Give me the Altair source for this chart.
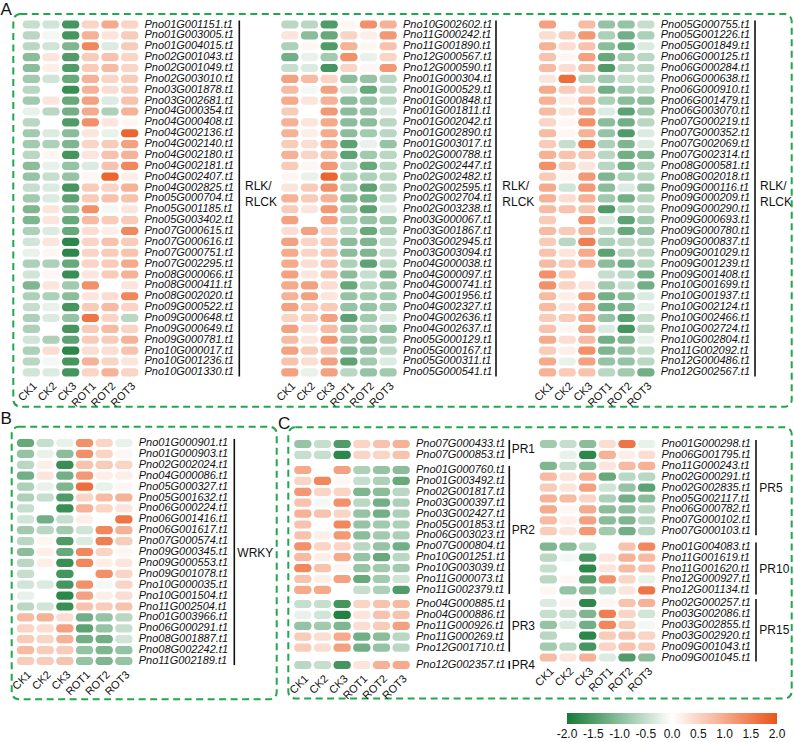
import altair as alt
import pandas as pd

COLUMNS = ["CK1", "CK2", "CK3", "ROT1", "ROT2", "ROT3"]

# ---- Panel A : RLK / RLCK genes (three blocks) ----
A1_GENES = [
    "Pno01G001151.t1", "Pno01G003005.t1", "Pno01G004015.t1", "Pno02G001043.t1",
    "Pno02G001049.t1", "Pno02G003010.t1", "Pno03G001878.t1", "Pno03G002681.t1",
    "Pno04G000354.t1", "Pno04G000408.t1", "Pno04G002136.t1", "Pno04G002140.t1",
    "Pno04G002180.t1", "Pno04G002181.t1", "Pno04G002407.t1", "Pno04G002825.t1",
    "Pno05G000704.t1", "Pno05G001185.t1", "Pno05G003402.t1", "Pno07G000615.t1",
    "Pno07G000616.t1", "Pno07G000751.t1", "Pno07G002295.t1", "Pno08G000066.t1",
    "Pno08G000411.t1", "Pno08G002020.t1", "Pno09G000522.t1", "Pno09G000648.t1",
    "Pno09G000649.t1", "Pno09G000781.t1", "Pno10G000017.t1", "Pno10G001236.t1",
    "Pno10G001330.t1",
]
A1_VALUES = [
    [-0.5, -0.4, -1.6, 0.5, 1.0, 0.5], [-0.6, -0.1, -1.6, 0.9, 0.3, 0.6],
    [-0.6, -0.4, -1.1, 1.4, -0.3, 0.6], [-1.0, 0.3, -1.5, 0.6, 0.7, 0.5],
    [-1.0, 0.2, -1.5, 0.6, 0.8, 0.5], [-0.8, -0.4, -1.3, 0.9, 0.5, 0.6],
    [-0.6, 0.0, -1.7, 0.9, 0.4, 0.6], [-0.8, 0.3, -1.3, 1.1, -0.3, 0.7],
    [-0.2, -0.6, -1.2, 1.0, -0.7, 0.9], [-0.6, 0.0, -1.5, 1.3, 0.3, 0.1],
    [-0.8, -0.3, -1.0, 0.3, -0.2, 1.8], [-0.8, -0.7, -1.1, 0.5, 0.6, 1.1],
    [-0.6, 0.1, -1.6, 0.3, 0.7, 0.9], [-1.0, -0.2, -0.9, -0.3, 0.7, 1.4],
    [-0.9, -0.5, -0.9, 0.1, 1.8, 0.2], [-0.5, -0.3, -1.6, 0.6, 0.5, 0.9],
    [-0.8, -0.3, -1.4, 0.6, 0.7, 0.7], [-1.1, 0.3, -1.0, 1.3, -0.1, 0.3],
    [-1.1, 0.3, -1.3, 0.8, 0.6, 0.6], [-0.7, -0.3, -1.3, 0.4, 0.2, 1.4],
    [-0.4, 0.3, -1.8, 0.5, 0.7, 0.6], [-0.2, 0.1, -1.8, 0.5, 0.6, 0.7],
    [-0.7, -0.7, -1.3, 0.5, 0.6, 1.0], [-0.4, 0.1, -1.7, 0.3, 0.6, 0.9],
    [-1.1, 0.3, -0.8, 1.3, 0.0, 0.3], [-0.7, -0.7, -1.0, 0.3, 0.4, 1.4],
    [-0.5, -0.2, -1.6, 0.6, 0.8, 0.5], [-0.7, -0.3, -0.9, 1.6, 0.5, -0.6],
    [-0.7, 0.0, -1.6, 0.6, 0.8, 0.5], [-0.4, -0.7, -1.4, 0.6, 0.6, 0.9],
    [-0.7, 0.4, -1.8, 0.4, 0.4, 0.7], [-0.6, -0.1, -1.6, 0.9, 0.5, 0.3],
    [-0.4, -0.3, -1.6, 0.5, 0.9, 0.5],
]

A2_GENES = [
    "Pno10G002602.t1", "Pno11G000242.t1", "Pno11G001890.t1", "Pno12G000567.t1",
    "Pno12G000590.t1", "Pno01G000304.t1", "Pno01G000529.t1", "Pno01G000848.t1",
    "Pno01G001811.t1", "Pno01G002042.t1", "Pno01G002890.t1", "Pno01G003017.t1",
    "Pno02G000788.t1", "Pno02G002447.t1", "Pno02G002482.t1", "Pno02G002595.t1",
    "Pno02G002704.t1", "Pno02G003238.t1", "Pno03G000067.t1", "Pno03G001867.t1",
    "Pno03G002945.t1", "Pno03G003094.t1", "Pno04G000038.t1", "Pno04G000097.t1",
    "Pno04G000741.t1", "Pno04G001956.t1", "Pno04G002327.t1", "Pno04G002636.t1",
    "Pno04G002637.t1", "Pno05G000129.t1", "Pno05G000167.t1", "Pno05G000311.t1",
    "Pno05G000541.t1",
]
A2_VALUES = [
    [-0.6, -0.6, -1.5, 0.1, 1.3, 0.9], [0.3, -1.0, -1.3, 0.5, 0.2, 1.2],
    [-0.7, 0.1, -1.5, 0.9, 0.1, 0.7], [-1.2, -0.2, -0.8, 1.3, -0.2, 0.5],
    [-0.5, -0.3, -1.6, 0.5, 0.1, 1.2], [1.1, 0.8, 0.5, -1.0, -0.9, -0.6],
    [0.8, -0.1, 1.1, -0.4, -1.3, -0.6], [1.0, 0.3, 0.9, -1.0, -0.9, -0.6],
    [0.6, 0.0, 1.2, -1.0, -0.9, -0.3], [0.9, 0.3, 1.0, -1.0, -1.0, -0.6],
    [0.9, 0.2, 1.0, -1.0, -0.8, -0.6], [0.6, 0.4, 1.0, -1.4, -0.2, -0.9],
    [0.9, 0.5, 0.8, -1.4, -0.8, -0.6], [0.6, 0.1, 1.2, -0.5, -1.3, -0.6],
    [0.1, -0.2, 1.8, -0.7, -0.7, -0.6], [0.3, 0.6, 1.3, -0.6, -1.4, -0.6],
    [0.9, 0.6, 0.9, -1.0, -1.2, -0.5], [0.6, 0.3, 1.2, -0.7, -1.4, -0.3],
    [1.1, 0.0, 1.1, -0.7, -0.9, -0.8], [0.4, 1.1, 0.5, -0.6, -1.3, -0.7],
    [1.1, 0.5, 0.7, -1.0, -1.1, -0.5], [1.0, 0.5, 0.7, -1.0, -1.1, -0.5],
    [1.0, 0.4, 0.7, -0.7, -1.4, -0.6], [1.1, 0.3, 0.7, -1.0, -0.5, -1.1],
    [1.0, 1.1, 0.4, -1.3, -0.6, -0.8], [0.9, 1.1, 0.3, -0.9, -0.8, -0.8],
    [1.1, 0.6, 0.6, -0.9, -0.9, -0.8], [0.5, 0.6, 1.1, -1.4, -0.8, -0.3],
    [1.1, 0.3, 0.8, -0.9, -0.6, -1.0], [0.8, 0.3, 1.2, -0.9, -1.1, -0.7],
    [1.1, 0.6, 0.7, -1.1, -0.9, -0.6], [0.7, 0.4, 1.1, -1.4, -0.8, -0.3],
    [1.1, -0.2, 1.1, -0.6, -0.9, -0.8],
]

A3_GENES = [
    "Pno05G000755.t1", "Pno05G001226.t1", "Pno05G001849.t1", "Pno06G000125.t1",
    "Pno06G000284.t1", "Pno06G000638.t1", "Pno06G000910.t1", "Pno06G001479.t1",
    "Pno06G003070.t1", "Pno07G000219.t1", "Pno07G000352.t1", "Pno07G002069.t1",
    "Pno07G002314.t1", "Pno08G000581.t1", "Pno08G002018.t1", "Pno09G000116.t1",
    "Pno09G000209.t1", "Pno09G000290.t1", "Pno09G000693.t1", "Pno09G000780.t1",
    "Pno09G000837.t1", "Pno09G001029.t1", "Pno09G001239.t1", "Pno09G001408.t1",
    "Pno10G001699.t1", "Pno10G001937.t1", "Pno10G002124.t1", "Pno10G002466.t1",
    "Pno10G002724.t1", "Pno10G002804.t1", "Pno11G002092.t1", "Pno12G000486.t1",
    "Pno12G002567.t1",
]
A3_VALUES = [
    [1.1, 0.0, 0.8, -0.9, -0.9, -0.5], [0.4, 0.6, 1.2, -0.7, -1.2, -0.7],
    [0.9, 0.4, 0.7, -1.0, -1.3, -0.3], [0.7, 0.1, 1.1, -1.3, -0.8, -0.6],
    [0.8, 0.4, 0.8, -1.5, -0.6, -0.6], [0.3, 1.7, -0.6, -0.8, -0.5, -0.5],
    [1.0, 0.6, 0.6, -1.2, -0.8, -0.6], [0.9, 0.2, 0.9, -0.7, -1.0, -1.0],
    [0.8, 0.3, 1.1, -0.3, -1.4, -0.8], [0.5, 0.1, 1.3, -1.0, -1.2, -0.6],
    [0.8, 0.1, 0.9, -0.9, -1.5, -0.3], [0.6, -0.5, 1.5, -0.7, -1.1, -0.3],
    [0.9, 0.7, 0.7, -0.6, -1.2, -1.1], [1.3, 0.6, 0.3, -0.6, -1.2, -0.6],
    [0.6, 0.1, 1.2, -1.1, -0.7, -0.6], [1.0, -0.4, 1.2, -1.0, -0.3, -0.9],
    [0.9, 0.4, 0.9, -0.8, -1.2, -0.6], [0.8, 0.7, 0.7, -1.5, -0.6, -0.6],
    [0.6, 0.0, 1.3, -0.3, -1.4, -0.8], [0.8, 0.6, 0.9, -0.6, -1.3, -0.9],
    [0.6, -0.6, 1.5, -0.7, -0.6, -0.6], [0.7, 0.3, 1.0, -1.4, -0.6, -0.6],
    [0.8, 0.6, 0.9, -1.0, -1.2, -0.6], [1.3, 0.6, 0.0, -0.5, -0.6, -1.2],
    [1.3, 0.5, 0.3, -0.8, -0.5, -1.2], [0.8, 0.2, 1.2, -1.2, -1.0, -0.3],
    [0.8, 0.3, 1.0, -1.2, -1.1, -0.2], [0.6, 0.6, 1.0, -0.9, -1.4, -0.5],
    [0.7, 0.1, 1.1, -0.3, -1.6, -0.6], [1.0, 0.4, 0.8, -1.2, -1.1, -0.2],
    [0.6, 0.2, 1.3, -1.1, -0.9, -0.5], [1.0, -0.2, 1.1, -0.9, -0.9, -0.6],
    [0.9, 0.6, 0.7, -0.6, -0.8, -1.2],
]

# ---- Panel B : WRKY ----
B_GENES = [
    "Pno01G000901.t1", "Pno01G000903.t1", "Pno02G002024.t1", "Pno04G000086.t1",
    "Pno05G000327.t1", "Pno05G001632.t1", "Pno06G000224.t1", "Pno06G001416.t1",
    "Pno06G001617.t1", "Pno07G000574.t1", "Pno09G000345.t1", "Pno09G000553.t1",
    "Pno09G001078.t1", "Pno10G000035.t1", "Pno10G001504.t1", "Pno11G002504.t1",
    "Pno01G003966.t1", "Pno06G000291.t1", "Pno08G001887.t1", "Pno08G002242.t1",
    "Pno11G002189.t1",
]
B_VALUES = [
    [-1.3, -0.5, -0.2, 1.3, 0.5, -0.2], [-0.9, -0.2, -1.0, 1.3, 0.5, 0.1],
    [-0.6, 0.2, -1.7, 0.7, 0.6, 0.5], [-1.2, 0.3, -1.2, 1.2, 0.2, 0.2],
    [-0.7, -0.2, -1.1, 1.7, -0.2, 0.1], [-0.7, -0.5, -1.5, 0.5, 0.8, 0.9],
    [-0.5, 0.0, -1.7, 0.9, 0.5, 0.3], [-0.4, -1.2, -0.5, 0.2, 0.0, 1.6],
    [-0.8, -0.6, -0.8, -0.4, 1.4, 0.9], [-0.6, 0.1, -1.5, -0.3, 1.5, 0.6],
    [-1.0, 0.2, -1.3, 1.4, 0.5, 0.1], [-0.6, 0.2, -1.7, 1.4, 0.2, 0.3],
    [-0.5, 0.0, -1.6, 0.0, 1.3, 0.5], [-0.4, -0.3, -1.6, 1.3, -0.1, 0.5],
    [-0.2, 0.0, -1.8, 1.1, 0.2, 0.4], [-0.6, -0.4, -1.7, 0.7, 0.6, 0.7],
    [0.8, 0.9, 0.4, -1.2, -0.9, -0.6], [0.5, 0.4, 1.1, -1.4, -0.9, -0.5],
    [0.6, 0.5, 0.9, -1.2, -1.2, -0.4], [0.8, 0.6, 0.6, -0.9, -1.1, -0.9],
    [0.6, 0.6, 0.7, -0.9, -1.1, -0.9],
]

# ---- Panel C : PR genes ----
PR1_GENES = ["Pno07G000433.t1", "Pno07G000853.t1"]
PR1_VALUES = [[-0.9, -0.5, -1.5, 0.5, 0.7, 0.9], [-0.5, -0.5, -1.8, 0.5, 0.5, 0.7]]

PR2_GENES = [
    "Pno01G000760.t1", "Pno01G003492.t1", "Pno02G001817.t1", "Pno03G000397.t1",
    "Pno03G002427.t1", "Pno05G001853.t1", "Pno06G003023.t1", "Pno07G000804.t1",
    "Pno10G001251.t1", "Pno10G003039.t1", "Pno11G000073.t1", "Pno11G002379.t1",
]
PR2_VALUES = [
    [1.0, 0.0, 1.1, -0.7, -0.9, -1.0], [0.5, 1.4, 0.1, -0.5, -0.7, -1.3],
    [1.2, 0.5, 0.5, -1.1, -1.0, -0.6], [0.7, -0.1, 1.3, -0.6, -1.2, -0.7],
    [0.9, 0.7, 0.5, -0.9, -1.2, -0.7], [0.7, 0.0, 1.4, -0.9, -0.8, -0.7],
    [0.7, 0.2, 1.2, -1.0, -0.8, -0.7], [1.3, 0.5, 0.5, -0.6, -0.9, -1.2],
    [0.8, 0.2, 1.0, -0.9, -1.3, -0.6], [1.4, 0.7, 0.1, -0.9, -0.8, -0.8],
    [0.7, 0.2, 1.1, -1.3, -0.8, -0.4], [1.0, 1.0, 0.0, -0.5, -0.7, -1.5],
]

PR3_GENES = ["Pno04G000885.t1", "Pno04G000886.t1", "Pno11G000926.t1",
             "Pno11G000269.t1", "Pno12G001710.t1"]
PR3_VALUES = [
    [-0.5, -0.5, -1.6, 0.5, 0.7, 0.8], [-0.2, -0.4, -1.9, 0.3, 0.7, 0.7],
    [-0.9, -0.8, -1.1, 0.4, 0.6, 1.1], [0.6, 0.4, 1.0, -1.2, -1.0, -0.6],
    [0.6, 0.4, 1.1, -1.2, -0.9, -0.6],
]

PR4_GENES = ["Pno12G002357.t1"]
PR4_VALUES = [[-0.6, -0.5, -1.6, 0.3, 0.9, 1.0]]

PR5_GENES = [
    "Pno01G000298.t1", "Pno06G001795.t1", "Pno11G000243.t1", "Pno02G000291.t1",
    "Pno02G002835.t1", "Pno05G002117.t1", "Pno06G000782.t1", "Pno07G000102.t1",
    "Pno07G000103.t1",
]
PR5_VALUES = [
    [-0.8, -0.5, -1.0, 0.4, 1.6, -0.2], [0.0, -0.2, -1.8, 0.9, 0.2, 0.4],
    [-1.1, -0.5, -1.0, 0.3, 0.8, 0.9], [0.8, 0.3, 0.9, -1.3, -0.6, -0.6],
    [0.6, 0.3, 1.1, -0.4, -0.9, -1.4], [0.9, 0.8, 0.5, -0.7, -1.2, -1.0],
    [1.0, 0.1, 1.0, -1.0, -1.0, -0.6], [0.8, 0.2, 1.1, -1.0, -1.1, -0.6],
    [0.6, 0.3, 1.2, -0.8, -1.2, -0.6],
]

PR10_GENES = ["Pno01G004083.t1", "Pno11G001619.t1", "Pno11G001620.t1",
              "Pno12G000927.t1", "Pno12G001134.t1"]
PR10_VALUES = [
    [-1.1, -1.0, -0.5, 0.0, 0.7, 1.4], [-0.6, -0.1, -1.6, 0.3, 0.9, 0.8],
    [-0.5, 0.0, -1.8, 0.3, 0.8, 0.7], [-0.6, 0.1, -1.5, 1.3, 0.5, -0.2],
    [0.1, -0.9, -1.1, -0.5, 0.3, 1.6],
]

PR15_GENES = ["Pno02G000257.t1", "Pno03G002086.t1", "Pno03G002855.t1",
              "Pno03G002920.t1", "Pno09G001043.t1", "Pno09G001045.t1"]
PR15_VALUES = [
    [-0.3, 0.1, -1.8, 0.1, 0.7, 0.9], [-0.5, -0.5, -1.1, 1.5, 0.5, -0.4],
    [-0.9, -0.3, -1.2, 1.4, 0.6, -0.1], [-0.6, 0.0, -1.8, 0.6, 0.7, 0.5],
    [-0.8, -0.6, -1.6, 0.5, 0.7, 0.6], [0.8, 0.3, 0.9, -0.3, -1.5, -1.0],
]

LEGEND_TICKS = [-2.0, -1.5, -1.0, -0.5, 0.0, 0.5, 1.0, 1.5, 2.0]
LEGEND_LABELS = ["-2.0", "-1.5", "-1.0", "-0.5", "0.0", "0.5", "1.0", "1.5", "2.0"]

# ---- layout & style ----
W, H = 793, 741
FONT = "Liberation Sans"
INK = "#111111"
DASH_GREEN = "#22a84c"
BAR_X = (567, 777)      # colour bar extent

color_scale = alt.Scale(domain=[-2, 0, 2], range=["#167a36", "#ffffff", "#ea5418"],
                        interpolate="rgb")
# gradient only; its tick labels are drawn as a text layer below the bar
color_legend = alt.Legend(
    orient="none", legendX=BAR_X[0], legendY=713, direction="horizontal",
    gradientLength=BAR_X[1] - BAR_X[0], gradientThickness=11, gradientStrokeWidth=0,
    values=LEGEND_TICKS, labelExpr="''", labelOpacity=0, title=None,
)


def heatmap(genes, values, xr, yr, show_x, bracket_x, label, label_x, label_y):
    df = pd.DataFrame([
        {"gene": g, "sample": s, "value": v}
        for g, row in zip(genes, values) for s, v in zip(COLUMNS, row)
    ])
    xs = alt.Scale(domain=COLUMNS, range=list(xr), paddingInner=0.12, paddingOuter=0.06)
    ys = alt.Scale(domain=genes, range=list(yr), paddingInner=0.25, paddingOuter=0.125)
    if show_x:
        x_axis = alt.Axis(orient="bottom", offset=yr[1] - H, labelAngle=-45, ticks=False,
                          domain=False, grid=False, labelPadding=2, labelFont=FONT,
                          labelFontSize=11, labelColor=INK, title=None)
    else:
        x_axis = None
    cells = alt.Chart(df).mark_rect(cornerRadius=3.5).encode(
        x=alt.X("sample:N", scale=xs, axis=x_axis),
        y=alt.Y("gene:N", scale=ys, axis=None),
        color=alt.Color("value:Q", scale=color_scale, legend=color_legend),
    )
    # gene names to the right of each row
    names = alt.Chart(pd.DataFrame({"gene": genes})).mark_text(
        align="left", baseline="middle", font=FONT, fontSize=11, fontStyle="italic",
        color=INK,
    ).encode(
        x=alt.value(xr[1] + 5),
        y=alt.Y("gene:N", scale=ys, axis=None),
        text="gene:N",
    )
    ends = pd.DataFrame({"first": [genes[0]], "last": [genes[-1]]})
    bracket = alt.Chart(ends).mark_rule(color=INK, strokeWidth=1.6).encode(
        x=alt.value(bracket_x),
        y=alt.Y("first:N", scale=ys, bandPosition=0, axis=None),
        y2=alt.Y2("last:N", bandPosition=1),
    )
    family = alt.Chart(pd.DataFrame({"label": [label]})).mark_text(
        align="left", baseline="middle", font=FONT, fontSize=12, lineBreak="\n",
        lineHeight=16, color=INK,
    ).encode(x=alt.value(label_x), y=alt.value(label_y), text="label:N")
    return alt.layer(cells, names, bracket, family)


def mid(r):
    return (r[0] + r[1]) / 2


A_Y = (19.07, 377.78)
B_Y = (437.55, 666.45)
PR1_Y, PR2_Y, PR3_Y, PR4_Y = (438.55, 460.35), (464.55, 595.35), (598.55, 653.05), (659.55, 670.45)
PR5_Y, PR10_Y, PR15_Y = (438.55, 536.65), (541.25, 595.75), (597.55, 662.95)

blocks = [
    heatmap(A1_GENES, A1_VALUES, (21.5, 139.5), A_Y, True, 239.3, "RLK/\nRLCK", 245, 186),
    heatmap(A2_GENES, A2_VALUES, (280, 398), A_Y, True, 496, "RLK/\nRLCK", 502.3, 186),
    heatmap(A3_GENES, A3_VALUES, (537.7, 655.7), A_Y, True, 755, "RLK/\nRLCK", 760, 186),
    heatmap(B_GENES, B_VALUES, (15.7, 133.7), B_Y, True, 234.3, "WRKY", 237.3, 553),
    heatmap(PR1_GENES, PR1_VALUES, (293, 411), PR1_Y, False, 509.3, "PR1", 511.7, mid(PR1_Y)),
    heatmap(PR2_GENES, PR2_VALUES, (293, 411), PR2_Y, False, 509.3, "PR2", 511.7, mid(PR2_Y)),
    heatmap(PR3_GENES, PR3_VALUES, (293, 411), PR3_Y, False, 509.3, "PR3", 511.7, mid(PR3_Y)),
    heatmap(PR4_GENES, PR4_VALUES, (293, 411), PR4_Y, True, 509.3, "PR4", 511.7, mid(PR4_Y)),
    heatmap(PR5_GENES, PR5_VALUES, (538.5, 656.5), PR5_Y, False, 756, "PR5", 759.3, mid(PR5_Y)),
    heatmap(PR10_GENES, PR10_VALUES, (538.5, 656.5), PR10_Y, False, 756, "PR10", 759.3, mid(PR10_Y)),
    heatmap(PR15_GENES, PR15_VALUES, (538.5, 656.5), PR15_Y, True, 756, "PR15", 759.3, mid(PR15_Y)),
]

# tick labels under the colour bar
bar_labels = alt.Chart(pd.DataFrame({"v": LEGEND_TICKS, "label": LEGEND_LABELS})).mark_text(
    align="center", baseline="top", font=FONT, fontSize=12, color=INK,
).encode(
    x=alt.X("v:Q", scale=alt.Scale(domain=[-2, 2], range=list(BAR_X)), axis=None),
    y=alt.value(729),
    text="label:N",
)


def dashed_box(x1, y1, x2, y2):
    return alt.Chart(pd.DataFrame({"k": [0]})).mark_rect(
        fillOpacity=0, stroke=DASH_GREEN, strokeWidth=2, strokeDash=[7, 4.5], cornerRadius=7,
    ).encode(x=alt.value(x1), x2=alt.value(x2), y=alt.value(y1), y2=alt.value(y2))


def panel_letter(t, x, y):
    return alt.Chart(pd.DataFrame({"t": [t]})).mark_text(
        align="left", baseline="alphabetic", font=FONT, fontSize=17, color=INK,
    ).encode(x=alt.value(x), y=alt.value(y), text="t:N")


frames = [
    dashed_box(13.3, 14, 791.7, 406.7),
    dashed_box(11.7, 426.7, 276.7, 699.3),
    dashed_box(288.3, 427.3, 791.7, 698.5),
]
letters = [panel_letter("A", 0.5, 14.5), panel_letter("B", 0.5, 423.5), panel_letter("C", 278, 429)]

chart = (
    alt.layer(*blocks, bar_labels, *frames, *letters)
    .resolve_scale(x="independent", y="independent")
    .resolve_axis(x="independent", y="independent")
    .properties(width=W, height=H, padding=0)
    .configure_view(strokeWidth=0)
)

chart.save("out.html", embed_options={"renderer": "svg", "actions": False})
